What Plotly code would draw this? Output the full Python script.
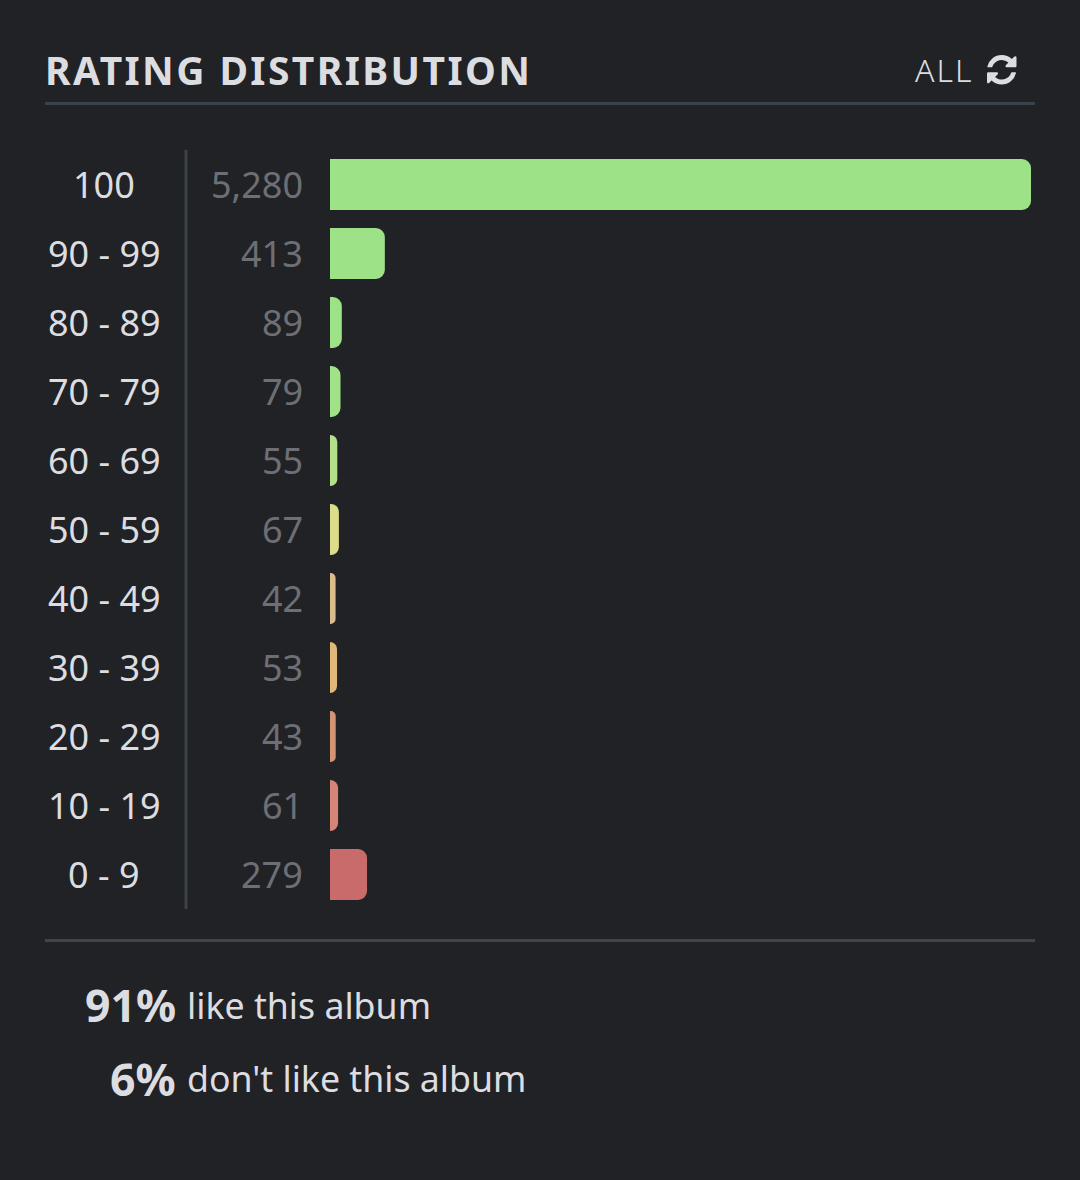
import re
import plotly.graph_objects as go

W, H = 1080, 1180
FONT = "Noto Sans"
BG = "#212226"

categories = ["100", "90 - 99", "80 - 89", "70 - 79", "60 - 69", "50 - 59",
              "40 - 49", "30 - 39", "20 - 29", "10 - 19", "0 - 9"]
counts = [5280, 413, 89, 79, 55, 67, 42, 53, 43, 61, 279]
bar_colors = ["#9ee288", "#9ee288", "#9ee288", "#9fe288", "#b5e08a", "#dbdd8a",
              "#dcbc8c", "#dfb878", "#d49474", "#d48578", "#c96b6b"]
title_text = "RATING DISTRIBUTION"
filter_text = "ALL"
like_pct, like_text = "91%", "like this album"
dislike_pct, dislike_text = "6%", "don't like this album"


def fx(px):
    return px / W


def fy(py):
    return 1 - py / H


ICON = ("M1639 1056q0 5-1 7-64 268-268 434.5t-478 166.5q-146 0-282.5-55t-243.5-157"
        "l-129 129q-19 19-45 19t-45-19-19-45v-448q0-26 19-45t45-19h448q26 0 45 19t19 45-19 45"
        "l-137 137q71 66 161 102t187 36q134 0 250-65t186-179q11-17 53-117 8-23 30-23h192"
        "q13 0 22.5 9.5t9.5 22.5zm25-800v448q0 26-19 45t-45 19h-448q-26 0-45-19t-19-45 19-45"
        "l138-138q-148-137-349-137-134 0-250 65t-186 179q-11 17-53 117-8 23-30 23h-199"
        "q-13 0-22.5-9.5t-9.5-22.5v-7q65-268 270-434.5t480-166.5q146 0 284 55.5t245 156.5"
        "l130-129q19-19 45-19t45 19 19 45z")


def icon_path(x0, y0, size):
    s = size / 1536
    tx = lambda g: fx(x0 + (g - 128) * s)
    ty = lambda g: fy(y0 + (g - 128) * s)
    out = []
    cx = cy = sx = sy = 0.0
    for cmd, args in re.findall(r"([mlhvqtzMLHVQTZ])([^mlhvqtzMLHVQTZ]*)", ICON):
        nums = [float(n) for n in re.findall(r"-?\d*\.?\d+", args)]
        c = cmd.lower()
        if c == "z":
            out.append("Z")
            cx, cy = sx, sy
        elif c == "h":
            for n in nums:
                cx += n
                out.append(f"L{tx(cx):.5f},{ty(cy):.5f}")
        elif c == "v":
            for n in nums:
                cy += n
                out.append(f"L{tx(cx):.5f},{ty(cy):.5f}")
        elif c == "q":
            for i in range(0, len(nums), 4):
                a, b, d, e = nums[i:i + 4]
                if cmd == "q":
                    a, b, d, e = a + cx, b + cy, d + cx, e + cy
                out.append(f"Q{tx(a):.5f},{ty(b):.5f} {tx(d):.5f},{ty(e):.5f}")
                cx, cy = d, e
                last = (a, b)
        elif c == "t":
            for i in range(0, len(nums), 2):
                d, e = nums[i:i + 2]
                d, e = d + cx, e + cy
                a, b = 2 * cx - last[0], 2 * cy - last[1]
                out.append(f"Q{tx(a):.5f},{ty(b):.5f} {tx(d):.5f},{ty(e):.5f}")
                cx, cy = d, e
                last = (a, b)
        else:
            for i in range(0, len(nums), 2):
                d, e = nums[i:i + 2]
                if cmd.islower():
                    d, e = d + cx, e + cy
                out.append(("M" if c == "m" and i == 0 else "L") + f"{tx(d):.5f},{ty(e):.5f}")
                cx, cy = d, e
                if c == "m" and i == 0:
                    sx, sy = cx, cy
    return " ".join(out)


fig = go.Figure(go.Bar(
    x=counts, y=categories, orientation="h",
    marker=dict(color=bar_colors, line_width=0),
    hoverinfo="skip",
))


def note(text, x, y, size, color, anchor="left", yref="paper", weight=400):
    fig.add_annotation(
        text=text,
        x=x, y=y, xref="paper", yref=yref, xanchor=anchor, yanchor="middle",
        showarrow=False, align=anchor,
        font=dict(family=FONT, size=size, color=color, weight=weight),
    )


for i, val in enumerate(counts):
    note(categories[i], fx(104), i, 36, "#dcdde0", "center", "y")
    note(f"{val:,}", fx(305), i, 36, "#6e6f74", "right", "y")

note(title_text, fx(43), fy(69), 39, "#dcdde1", "left", weight=700)
note(filter_text, fx(913), fy(69.5), 32, "#dcdde1", "left", weight=300)
note(like_pct, fx(178), fy(1005), 44.5, "#dcdde1", "right", weight=700)
note(like_text, fx(185), fy(1005), 35.7, "#dcdde1", "left")
note(dislike_pct, fx(178), fy(1078), 44.5, "#dcdde1", "right", weight=700)
note(dislike_text, fx(185), fy(1078), 35.7, "#dcdde1", "left")

rule = "#3a434b"
for x0, y0, x1, y1, c, w in [
    (45, 103.5, 1035, 103.5, rule, 3),
    (45, 940.5, 1035, 940.5, "#3f4549", 3),
    (186, 150, 186, 909, rule, 3),
]:
    fig.add_shape(type="line", xref="paper", yref="paper",
                  x0=fx(x0), y0=fy(y0), x1=fx(x1), y1=fy(y1),
                  line=dict(color=c, width=w))

fig.add_shape(type="path", xref="paper", yref="paper", path=icon_path(987, 55, 29.5),
              fillcolor="#dcdde1", line_width=0)

fig.update_layout(
    width=W, height=H, autosize=False,
    margin=dict(l=0, r=0, t=0, b=0),
    paper_bgcolor=BG, plot_bgcolor=BG,
    showlegend=False, bargap=18 / 69, barcornerradius=9,
    xaxis=dict(domain=[fx(330), fx(1031)], range=[0, counts[0]], visible=False, fixedrange=True),
    yaxis=dict(domain=[fy(909), fy(150)], type="category", categoryorder="array",
               categoryarray=categories, range=[10.5, -0.5], visible=False, fixedrange=True),
)

post = """
document.documentElement.style.background = '%s';
document.body.style.margin = '0';
document.body.style.background = '%s';
document.documentElement.style.overflow = 'hidden';
document.querySelectorAll('.annotation-text').forEach(function (t) {
  if (t.textContent === '%s') { t.style.letterSpacing = '2.4px'; }
  if (t.textContent === '%s') { t.style.letterSpacing = '2px'; }
});
""" % (BG, BG, title_text, filter_text)

fig.write_html("out.html", config={"displayModeBar": False}, post_script=post)
